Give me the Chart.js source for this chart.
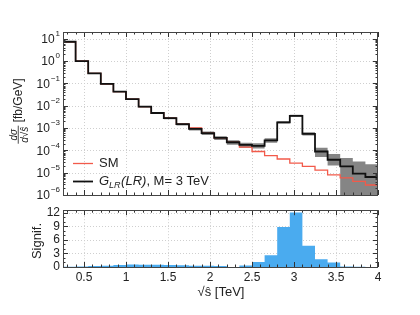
<!DOCTYPE html>
<html>
<head>
<meta charset="utf-8">
<script src="https://cdn.jsdelivr.net/npm/chart.js@4/dist/chart.umd.min.js"></script>
<style>
    body { margin: 0; background: #fff; }
    #wrap { position: relative; width: 420px; height: 315px; }
    #topChart { position: absolute; left: 0; top: 0; }
    #botChart { position: absolute; left: 0; top: 200px; }
</style>
</head>
<body>
<div id="wrap">
    <canvas id="topChart" width="420" height="200"></canvas>
    <canvas id="botChart" width="420" height="115"></canvas>
</div>
<script>
// bin edges of sqrt(s) in TeV (25 bins of 0.15)
const binEdges = [0.25, 0.40, 0.55, 0.70, 0.85, 1.00, 1.15, 1.30, 1.45, 1.60, 1.75, 1.90, 2.05,
    2.20, 2.35, 2.50, 2.65, 2.80, 2.95, 3.10, 3.25, 3.40, 3.55, 3.70, 3.85, 4.00];

// dsigma/dsqrt(s) [fb/GeV]
const smValues = [7.3, 1.0, 0.28, 0.094, 0.043, 0.0195, 0.0091, 0.0047, 0.0028, 0.0015, 1.0e-3,
    5.9e-4, 3.6e-4, 2.3e-4, 1.4e-4, 8.9e-5, 5.8e-5, 4.1e-5, 2.7e-5, 1.9e-5, 1.3e-5, 8.0e-6,
    5.9e-6, 4.1e-6, 2.8e-6];
const glrValues = [7.3, 1.0, 0.28, 0.094, 0.043, 0.0195, 0.0091, 0.0047, 0.0028, 0.0015, 9.1e-4,
    5.9e-4, 3.6e-4, 2.3e-4, 1.75e-4, 1.6e-4, 2.8e-4, 1.8e-3, 3.5e-3, 5.5e-4, 8.9e-5, 3.8e-5,
    1.9e-5, 9.1e-6, 6.4e-6];

// uncertainty band on the G_LR histogram
const glrLow = [6.8, 0.93, 0.26, 0.087, 0.040, 0.018, 0.0084, 0.0043, 0.0025, 0.0013, 7.8e-4,
    4.9e-4, 2.9e-4, 1.8e-4, 1.3e-4, 1.2e-4, 2.2e-4, 1.6e-3, 3.2e-3, 4.6e-4, 5.1e-5, 2.1e-5,
    1e-7, 1e-7, 1e-7];
const glrHigh = [7.8, 1.07, 0.30, 0.10, 0.046, 0.021, 0.0098, 0.0051, 0.0031, 0.0017, 1.05e-3,
    6.9e-4, 4.3e-4, 2.8e-4, 2.2e-4, 2.1e-4, 3.5e-4, 2.0e-3, 3.9e-3, 6.4e-4, 1.3e-4, 6.9e-5,
    4.5e-5, 3.2e-5, 2.4e-5];

// significance per bin
const signifValues = [0.03, 0.1, 0.2, 0.3, 0.45, 0.55, 0.5, 0.5, 0.45, 0.4, 0.3, 0.25, 0.2,
    0.02, 0.35, 1.1, 2.6, 8.85, 12.1, 4.7, 1.7, 1.0, 0.1, 0.05, 0.02];

const xTicks = [0.5, 1, 1.5, 2, 2.5, 3, 3.5, 4];
const xTickLabels = ['0.5', '1', '1.5', '2', '2.5', '3', '3.5', '4'];
const topExponents = [1, 0, -1, -2, -3, -4, -5, -6];
const signifTicks = [0, 3, 6, 9, 12];
const legendLabels = ['SM', 'M= 3 TeV'];

const FONT = '"Liberation Sans", Arial, sans-serif';
const TEXT = '#222';

// first point opens the first bin, every next point closes a bin with its value
// (used with stepped 'after', which rises at the start of each segment)
function stepPoints(values) {
    let pts = [{x: binEdges[0], y: values[0]}];
    values.forEach((v, i) => pts.push({x: binEdges[i + 1], y: v}));
    return pts;
}

function hline(ctx, x1, x2, y) {
    ctx.beginPath();
    ctx.moveTo(x1, y);
    ctx.lineTo(x2, y);
    ctx.stroke();
}

function vline(ctx, x, y1, y2) {
    ctx.beginPath();
    ctx.moveTo(x, y1);
    ctx.lineTo(x, y2);
    ctx.stroke();
}

function yMajorOf(chart) {
    if (chart.options.plugins.panel.kind === 'top') {
        return topExponents.map(e => Math.pow(10, e));
    }
    return signifTicks;
}

function yMinorOf(chart) {
    let out = [];
    if (chart.options.plugins.panel.kind === 'top') {
        topExponents.forEach(e => {
            for (let m = 2; m <= 9; m++) out.push(m * Math.pow(10, e));
        });
    } else {
        for (let v = 1; v <= 12; v++) out.push(v);
    }
    return out;
}

// grid, frame and inward ticks, drawn the same way for both panels
const panelPlugin = {
    id: 'panel',
    beforeDatasetsDraw(chart) {
        const {ctx, chartArea: a, scales: {x, y}} = chart;
        ctx.save();
        ctx.strokeStyle = '#cfcfcf';
        ctx.lineWidth = 1;
        ctx.setLineDash([1, 2]);
        xTicks.forEach(v => {
            if (v <= x.min || v >= x.max) return;
            vline(ctx, Math.round(x.getPixelForValue(v)) + 0.5, a.top, a.bottom);
        });
        yMajorOf(chart).forEach(v => {
            if (v <= y.min || v >= y.max) return;
            hline(ctx, a.left, a.right, Math.round(y.getPixelForValue(v)) + 0.5);
        });
        ctx.restore();
    },
    afterDatasetsDraw(chart) {
        const {ctx, chartArea: a, scales: {x, y}} = chart;
        ctx.save();
        ctx.strokeStyle = '#333';
        ctx.lineWidth = 1;
        // inner ticks
        const tick = (len, xs, ys) => {
            xs.forEach(v => {
                if (v < x.min || v > x.max) return;
                let px = Math.round(x.getPixelForValue(v)) + 0.5;
                vline(ctx, px, a.bottom, a.bottom - len);
                vline(ctx, px, a.top, a.top + len);
            });
            ys.forEach(v => {
                if (v < y.min || v > y.max) return;
                let py = Math.round(y.getPixelForValue(v)) + 0.5;
                hline(ctx, a.left, a.left + len, py);
                hline(ctx, a.right, a.right - len, py);
            });
        };
        let xMinor = [];
        for (let k = 3; k <= 39; k++) xMinor.push(k / 10);
        tick(2.5, xMinor, yMinorOf(chart));
        tick(5, xTicks, yMajorOf(chart));
        ctx.strokeStyle = '#444';
        ctx.strokeRect(Math.round(a.left) + 0.5, Math.round(a.top) + 0.5,
            Math.round(a.right - a.left) - 1, Math.round(a.bottom - a.top));
        ctx.restore();
    }
};

// log tick labels, y title and legend of the upper panel
const topTextPlugin = {
    id: 'topText',
    afterDraw(chart) {
        const {ctx, chartArea: a, scales: {y}} = chart;
        ctx.save();
        ctx.fillStyle = TEXT;
        topExponents.forEach(e => {
            let py = y.getPixelForValue(Math.pow(10, e));
            let sup = (e < 0 ? '\u2212' : '') + Math.abs(e);
            ctx.font = '8px ' + FONT;
            let sw = ctx.measureText(sup).width;
            ctx.textAlign = 'left';
            ctx.textBaseline = 'middle';
            ctx.fillText(sup, a.left - 3 - sw, py - 5);
            ctx.font = '12px ' + FONT;
            ctx.textAlign = 'right';
            ctx.fillText('10', a.left - 4 - sw, py + 1);
        });

        // y title: d sigma / d sqrt(s) [fb/GeV]
        ctx.translate(19, 111);
        ctx.rotate(-Math.PI / 2);
        const num = 'd\u03c3', den = 'd\u221a\u015d';
        ctx.font = 'italic 10px ' + FONT;
        let fw = Math.max(ctx.measureText(num).width, ctx.measureText(den).width) + 2;
        ctx.font = '12px ' + FONT;
        const rest = ' [fb/GeV]';
        let rw = ctx.measureText(rest).width;
        let x0 = -(fw + rw) / 2;
        ctx.font = 'italic 10px ' + FONT;
        ctx.textAlign = 'center';
        ctx.textBaseline = 'alphabetic';
        ctx.fillText(num, x0 + fw / 2, -2.5);
        ctx.fillText(den, x0 + fw / 2, 9);
        ctx.fillRect(x0, -1.2, fw, 0.8);
        ctx.font = '12px ' + FONT;
        ctx.textAlign = 'left';
        ctx.textBaseline = 'middle';
        ctx.fillText(rest, x0 + fw, 0);
        ctx.restore();

        // legend
        ctx.save();
        ctx.lineWidth = 1.3;
        ctx.strokeStyle = '#f25a4a';
        hline(ctx, 73, 93, 163.5);
        ctx.lineWidth = 1.8;
        ctx.strokeStyle = '#111';
        hline(ctx, 73, 93, 181.5);
        ctx.fillStyle = TEXT;
        ctx.textAlign = 'left';
        ctx.textBaseline = 'middle';
        ctx.font = '13px ' + FONT;
        ctx.fillText(legendLabels[0], 99, 163);
        let lx = 99;
        ctx.font = 'italic 13px ' + FONT;
        ctx.fillText('G', lx, 181);
        lx += ctx.measureText('G').width;
        ctx.font = 'italic 9px ' + FONT;
        ctx.fillText('LR', lx, 185);
        lx += ctx.measureText('LR').width + 0.5;
        ctx.font = 'italic 13px ' + FONT;
        ctx.fillText('(LR)', lx, 181);
        lx += ctx.measureText('(LR)').width;
        ctx.font = '13px ' + FONT;
        ctx.fillText(', ' + legendLabels[1], lx, 181);
        ctx.restore();
    }
};

// y and x titles of the lower panel
const botTextPlugin = {
    id: 'botText',
    afterDraw(chart) {
        const {ctx} = chart;
        ctx.save();
        ctx.fillStyle = TEXT;
        ctx.font = '13px ' + FONT;
        ctx.textAlign = 'center';
        ctx.textBaseline = 'middle';
        ctx.fillText('\u221a\u015d [TeV]', 221, 92);
        ctx.translate(37, 41);
        ctx.rotate(-Math.PI / 2);
        ctx.fillText('Signif.', 0, 0);
        ctx.restore();
    }
};

function xScale(showLabels, height) {
    return {
        type: 'linear',
        min: 0.25,
        max: 4,
        grid: {display: false, drawTicks: false},
        border: {display: false},
        afterBuildTicks: (s) => { s.ticks = xTicks.map(v => ({value: v})); },
        afterFit: (s) => { s.height = height; },
        ticks: {
            display: showLabels,
            autoSkip: false,
            maxRotation: 0,
            padding: 3,
            color: TEXT,
            font: {family: FONT, size: 12},
            callback: (v) => xTickLabels[xTicks.indexOf(v)]
        }
    };
}

const topChart = new Chart(document.getElementById('topChart').getContext('2d'), {
    type: 'line',
    data: {
        datasets: [{
            data: stepPoints(glrHigh),
            stepped: 'after',
            borderWidth: 0,
            pointRadius: 0,
            fill: false,
            order: 3
        }, {
            data: stepPoints(glrLow),
            stepped: 'after',
            borderWidth: 0,
            pointRadius: 0,
            fill: '-1',
            backgroundColor: '#858585',
            order: 2
        }, {
            label: 'SM',
            data: stepPoints(smValues),
            stepped: 'after',
            borderColor: '#f25a4a',
            borderWidth: 1.3,
            pointRadius: 0,
            fill: false,
            order: 1
        }, {
            label: 'G_LR(LR), M= 3 TeV',
            data: stepPoints(glrValues),
            stepped: 'after',
            borderColor: '#111',
            borderWidth: 1.8,
            pointRadius: 0,
            fill: false,
            order: 0
        }]
    },
    options: {
        responsive: false,
        animation: false,
        layout: {padding: {left: 0, right: 42, top: 32, bottom: 5}},
        plugins: {legend: {display: false}, tooltip: {enabled: false}, panel: {kind: 'top'}},
        scales: {
            x: xScale(false, 0),
            y: {
                type: 'logarithmic',
                min: 1e-6,
                max: 20,
                grid: {display: false, drawTicks: false},
                border: {display: false},
                ticks: {display: false},
                afterFit: (s) => { s.width = 63; }
            }
        }
    },
    plugins: [panelPlugin, topTextPlugin]
});

const botChart = new Chart(document.getElementById('botChart').getContext('2d'), {
    type: 'line',
    data: {
        datasets: [{
            label: 'Signif.',
            data: stepPoints(signifValues),
            stepped: 'after',
            borderWidth: 0,
            pointRadius: 0,
            fill: 'origin',
            backgroundColor: '#4aabef'
        }]
    },
    options: {
        responsive: false,
        animation: false,
        layout: {padding: {left: 0, right: 42, top: 8, bottom: 8}},
        plugins: {legend: {display: false}, tooltip: {enabled: false}, panel: {kind: 'bottom'}},
        scales: {
            x: xScale(true, 40),
            y: {
                type: 'linear',
                min: 0,
                max: 12.6,
                grid: {display: false, drawTicks: false},
                border: {display: false},
                afterBuildTicks: (s) => { s.ticks = signifTicks.map(v => ({value: v})); },
                afterFit: (s) => { s.width = 63; },
                ticks: {
                    autoSkip: false,
                    padding: 3,
                    color: TEXT,
                    font: {family: FONT, size: 12}
                }
            }
        }
    },
    plugins: [panelPlugin, botTextPlugin]
});
</script>
</body>
</html>
